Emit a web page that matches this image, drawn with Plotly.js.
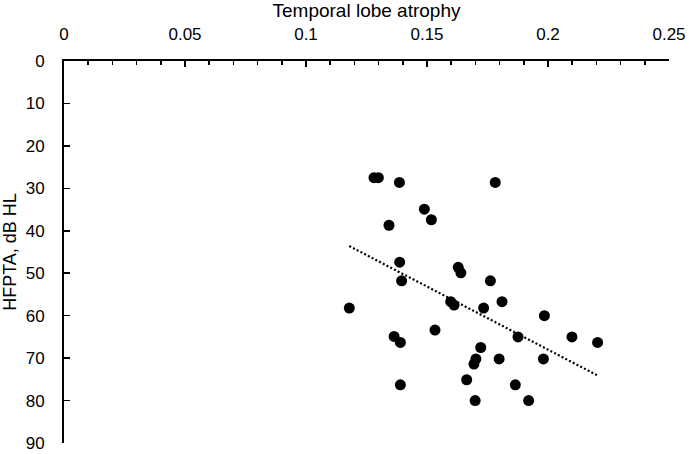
<!DOCTYPE html>
<html>
<head>
<meta charset="utf-8">
<script src="https://cdn.plot.ly/plotly-3.0.1.min.js"></script>
<style>
  body { margin: 0; background: #fff; }
  #chart { width: 689px; height: 454px; }
</style>
</head>
<body>
<div id="chart"></div>
<script>
// temporal lobe atrophy (x) vs HFPTA in dB HL (y)
var atrophy = [0.1281, 0.1299, 0.1386, 0.1782, 0.1489, 0.1518, 0.1343, 0.1387,
  0.1629, 0.1640, 0.1395, 0.1762, 0.1598, 0.1612, 0.1179, 0.1734, 0.1810,
  0.1985, 0.1533, 0.1364, 0.1390, 0.1876, 0.2099, 0.2205, 0.1722, 0.1702,
  0.1694, 0.1798, 0.1981, 0.1390, 0.1664, 0.1865, 0.1699, 0.1920];
var hfpta = [27.5, 27.5, 28.6, 28.6, 34.9, 37.4, 38.7, 47.4,
  48.6, 49.9, 51.8, 51.8, 56.7, 57.5, 58.2, 58.2, 56.7,
  60.0, 63.4, 64.9, 66.3, 65.0, 65.0, 66.3, 67.5, 70.2,
  71.4, 70.2, 70.2, 76.3, 75.1, 76.3, 80.0, 80.0];

// linear trendline ends
var trendX = [0.1179, 0.2205];
var trendY = [43.6, 74.1];

var xTicks = [0, 0.05, 0.1, 0.15, 0.2, 0.25];
var xLabels = ["0", "0.05", "0.1", "0.15", "0.2", "0.25"];
var yTicks = [0, 10, 20, 30, 40, 50, 60, 70, 80, 90];

var font = "Liberation Sans, Arial, Helvetica, sans-serif";

var pts = {
  x: atrophy, y: hfpta,
  type: "scatter", mode: "markers",
  marker: { color: "#000", size: 11 },
  hoverinfo: "skip"
};
var trend = {
  x: trendX, y: trendY,
  type: "scatter", mode: "lines",
  line: { color: "#000", width: 2.2, dash: "2px,2.2px" },
  hoverinfo: "skip"
};

var layout = {
  width: 689, height: 454,
  margin: { l: 64, r: 20, t: 61, b: 11 },
  showlegend: false,
  paper_bgcolor: "#fff", plot_bgcolor: "#fff",
  font: { family: font, size: 17, color: "#000" },
  xaxis: {
    side: "top",
    range: [0, 0.25],
    tickvals: xTicks, ticktext: xLabels,
    ticks: "inside", ticklen: 6, tickwidth: 1.5, tickcolor: "#000",
    minor: { dtick: 0.01, ticks: "inside", ticklen: 4, tickwidth: 1.5, tickcolor: "#000" },
    showline: true, linecolor: "#000", linewidth: 2,
    showgrid: false, zeroline: false,
    ticklabelstandoff: 12,
    tickfont: { size: 17 },
    title: { text: "Temporal lobe atrophy", font: { size: 19 }, standoff: 8 }
  },
  yaxis: {
    range: [90, 0],
    tickvals: yTicks,
    ticks: "inside", ticklen: 6, tickwidth: 1.5, tickcolor: "#000",
    showline: true, linecolor: "#000", linewidth: 2,
    showgrid: false, zeroline: false,
    ticklabelstandoff: 14,
    tickfont: { size: 17 },
    title: { text: "HFPTA, dB HL", font: { size: 18 }, standoff: 6 }
  }
};

Plotly.newPlot("chart", [trend, pts], layout, { staticPlot: true });
</script>
</body>
</html>
